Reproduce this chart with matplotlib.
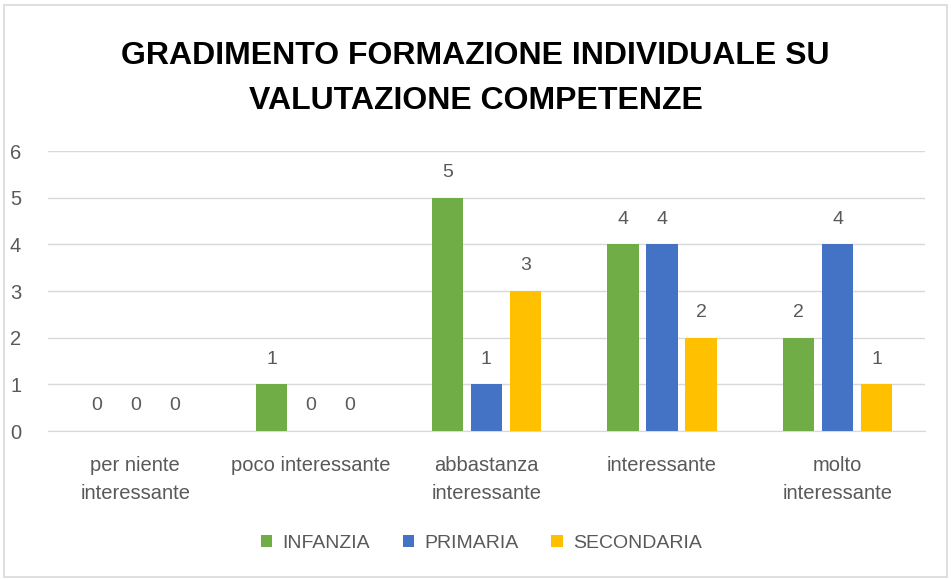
import matplotlib
matplotlib.use('Agg')
import matplotlib.pyplot as plt
import numpy as np
from matplotlib.patches import Rectangle

# Chart data
categories = ['per niente\ninteressante', 'poco interessante', 'abbastanza\ninteressante',
              'interessante', 'molto\ninteressante']
infanzia = [0, 1, 5, 4, 2]
primaria = [0, 0, 1, 4, 4]
secondaria = [0, 0, 3, 2, 1]
series_names = ['INFANZIA', 'PRIMARIA', 'SECONDARIA']
colors = ['#70AD47', '#4472C4', '#FFC000']

plt.rcParams['font.family'] = ['Liberation Sans', 'DejaVu Sans']

fig = plt.figure(figsize=(9.51, 5.79), dpi=100)
ax = fig.add_axes([0.05, 0.2556, 0.923, 0.4836])

# Outer chart border
fig.patches.append(Rectangle((0.004, 0.004), 0.992, 0.987, transform=fig.transFigure,
                             fill=False, edgecolor='#D9D9D9', linewidth=1.2))

x = np.arange(len(categories))
width = 0.177
step = 0.222
text_color = '#595959'

for i, (vals, name, col) in enumerate(zip([infanzia, primaria, secondaria], series_names, colors)):
    pos = x + (i - 1) * step
    bars = ax.bar(pos, vals, width, color=col, label=name, zorder=3)
    for b, v in zip(bars, vals):
        ax.text(b.get_x() + b.get_width() / 2, v + 0.36, f'{v}', ha='center', va='bottom',
                fontsize=14, color=text_color)

ax.set_xlim(-0.5, len(categories) - 0.5)
ax.set_ylim(0, 6)
ax.set_yticks(range(0, 7))
ax.grid(axis='y', color='#D9D9D9', linewidth=1, zorder=0)
ax.set_axisbelow(True)
for s in ['top', 'right', 'left']:
    ax.spines[s].set_visible(False)
ax.spines['bottom'].set_color('#D9D9D9')
ax.tick_params(axis='both', length=0, colors=text_color, labelsize=14.5)
ax.tick_params(axis='x', pad=18)
ax.tick_params(axis='y', pad=19)
ax.set_xticks(x)
ax.set_xticklabels(categories, linespacing=1.6)

fig.text(0.5, 0.865, 'GRADIMENTO FORMAZIONE INDIVIDUALE SU\nVALUTAZIONE COMPETENZE',
         ha='center', va='center', fontsize=23, fontweight='bold', color='black',
         linespacing=1.65)

leg = fig.legend(loc='center', bbox_to_anchor=(0.506, 0.062), ncol=3, frameon=False,
                 handlelength=0.6, handleheight=0.6, handletextpad=0.5, columnspacing=1.7,
                 prop={'size': 14})
for t in leg.get_texts():
    t.set_color(text_color)

plt.savefig('out.png', dpi=100)
plt.close()
